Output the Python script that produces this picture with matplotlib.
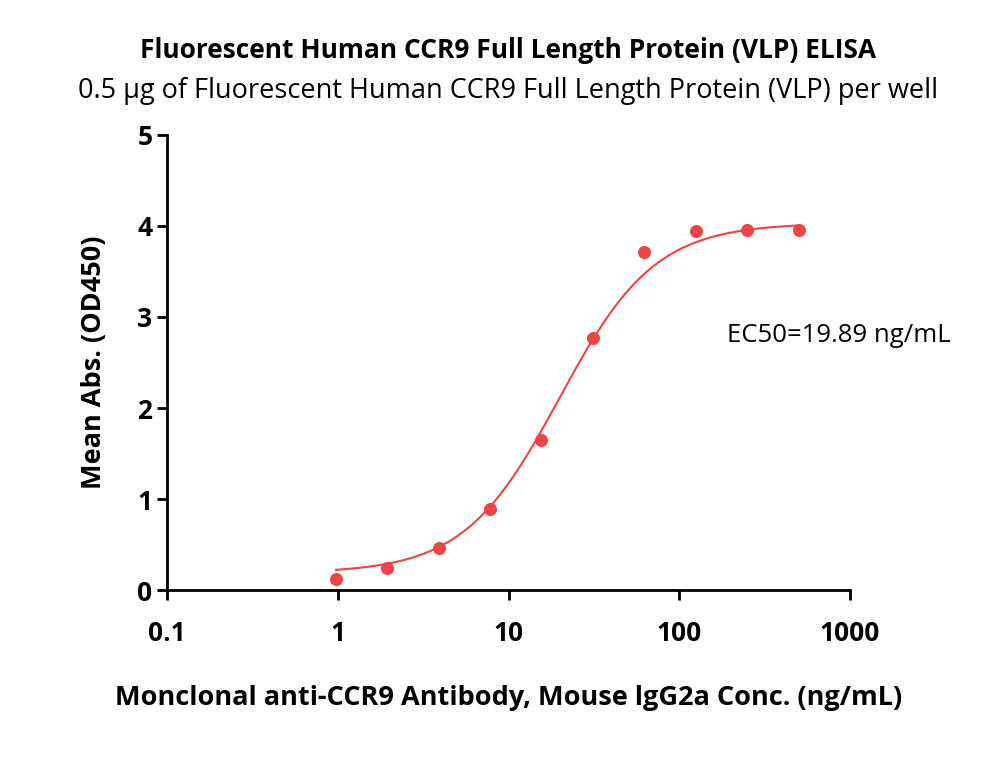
import matplotlib
matplotlib.use("Agg")
import matplotlib.pyplot as plt
import numpy as np

plt.rcParams['font.family'] = ['Open Sans', 'DejaVu Sans']

# measured points
conc = [0.977, 1.95, 3.9, 7.8, 15.6, 31.25, 62.5, 125, 250, 500]
od450 = [0.13, 0.25, 0.47, 0.89, 1.65, 2.77, 3.71, 3.94, 3.95, 3.95]

# 4PL fit parameters
bottom, top, ec50, hill = 0.19, 4.03, 19.89, 1.55

red = '#ee4444'

fig = plt.figure(figsize=(10, 7.83), dpi=100)
ax = fig.add_axes([0.167, 0.246, 0.683, 0.582])

xs = np.logspace(np.log10(conc[0]), np.log10(conc[-1]), 300)
ys = bottom + (top - bottom) / (1 + (ec50 / xs) ** hill)
ax.plot(xs, ys, color=red, lw=1.5)
ax.scatter(conc, od450, color=red, s=70, zorder=3)

ax.set_xscale('log')
ax.set_xlim(0.1, 1000)
ax.set_ylim(0, 5)
ax.set_xticks([0.1, 1, 10, 100, 1000])
ax.set_xticklabels(['0.1', '1', '10', '100', '1000'])
ax.minorticks_off()
ax.set_yticks([0, 1, 2, 3, 4, 5])
for s in ['top', 'right']:
    ax.spines[s].set_visible(False)
for s in ['left', 'bottom']:
    ax.spines[s].set_linewidth(2)
ax.tick_params(width=2, length=7, labelsize=19)
ax.tick_params(axis='x', pad=14)
for lbl in ax.get_xticklabels() + ax.get_yticklabels():
    lbl.set_fontweight('bold')

fig.text(0.727, 1 - 335 / 783, 'EC50=19.89 ng/mL', fontsize=18.5, va='center')
ax.set_ylabel('Mean Abs. (OD450)', fontsize=19.5, fontweight='bold', labelpad=22)
ax.set_xlabel('Monclonal anti-CCR9 Antibody, Mouse lgG2a Conc. (ng/mL)',
              fontsize=19.5, fontweight='bold', labelpad=28)

fig.text(0.508, 1 - 50 / 783, 'Fluorescent Human CCR9 Full Length Protein (VLP) ELISA',
         ha='center', va='center', fontsize=19, fontweight='bold')
fig.text(0.508, 1 - 91 / 783, '0.5 µg of Fluorescent Human CCR9 Full Length Protein (VLP) per well',
         ha='center', va='center', fontsize=19.5)

fig.savefig('out.png', dpi=100)
